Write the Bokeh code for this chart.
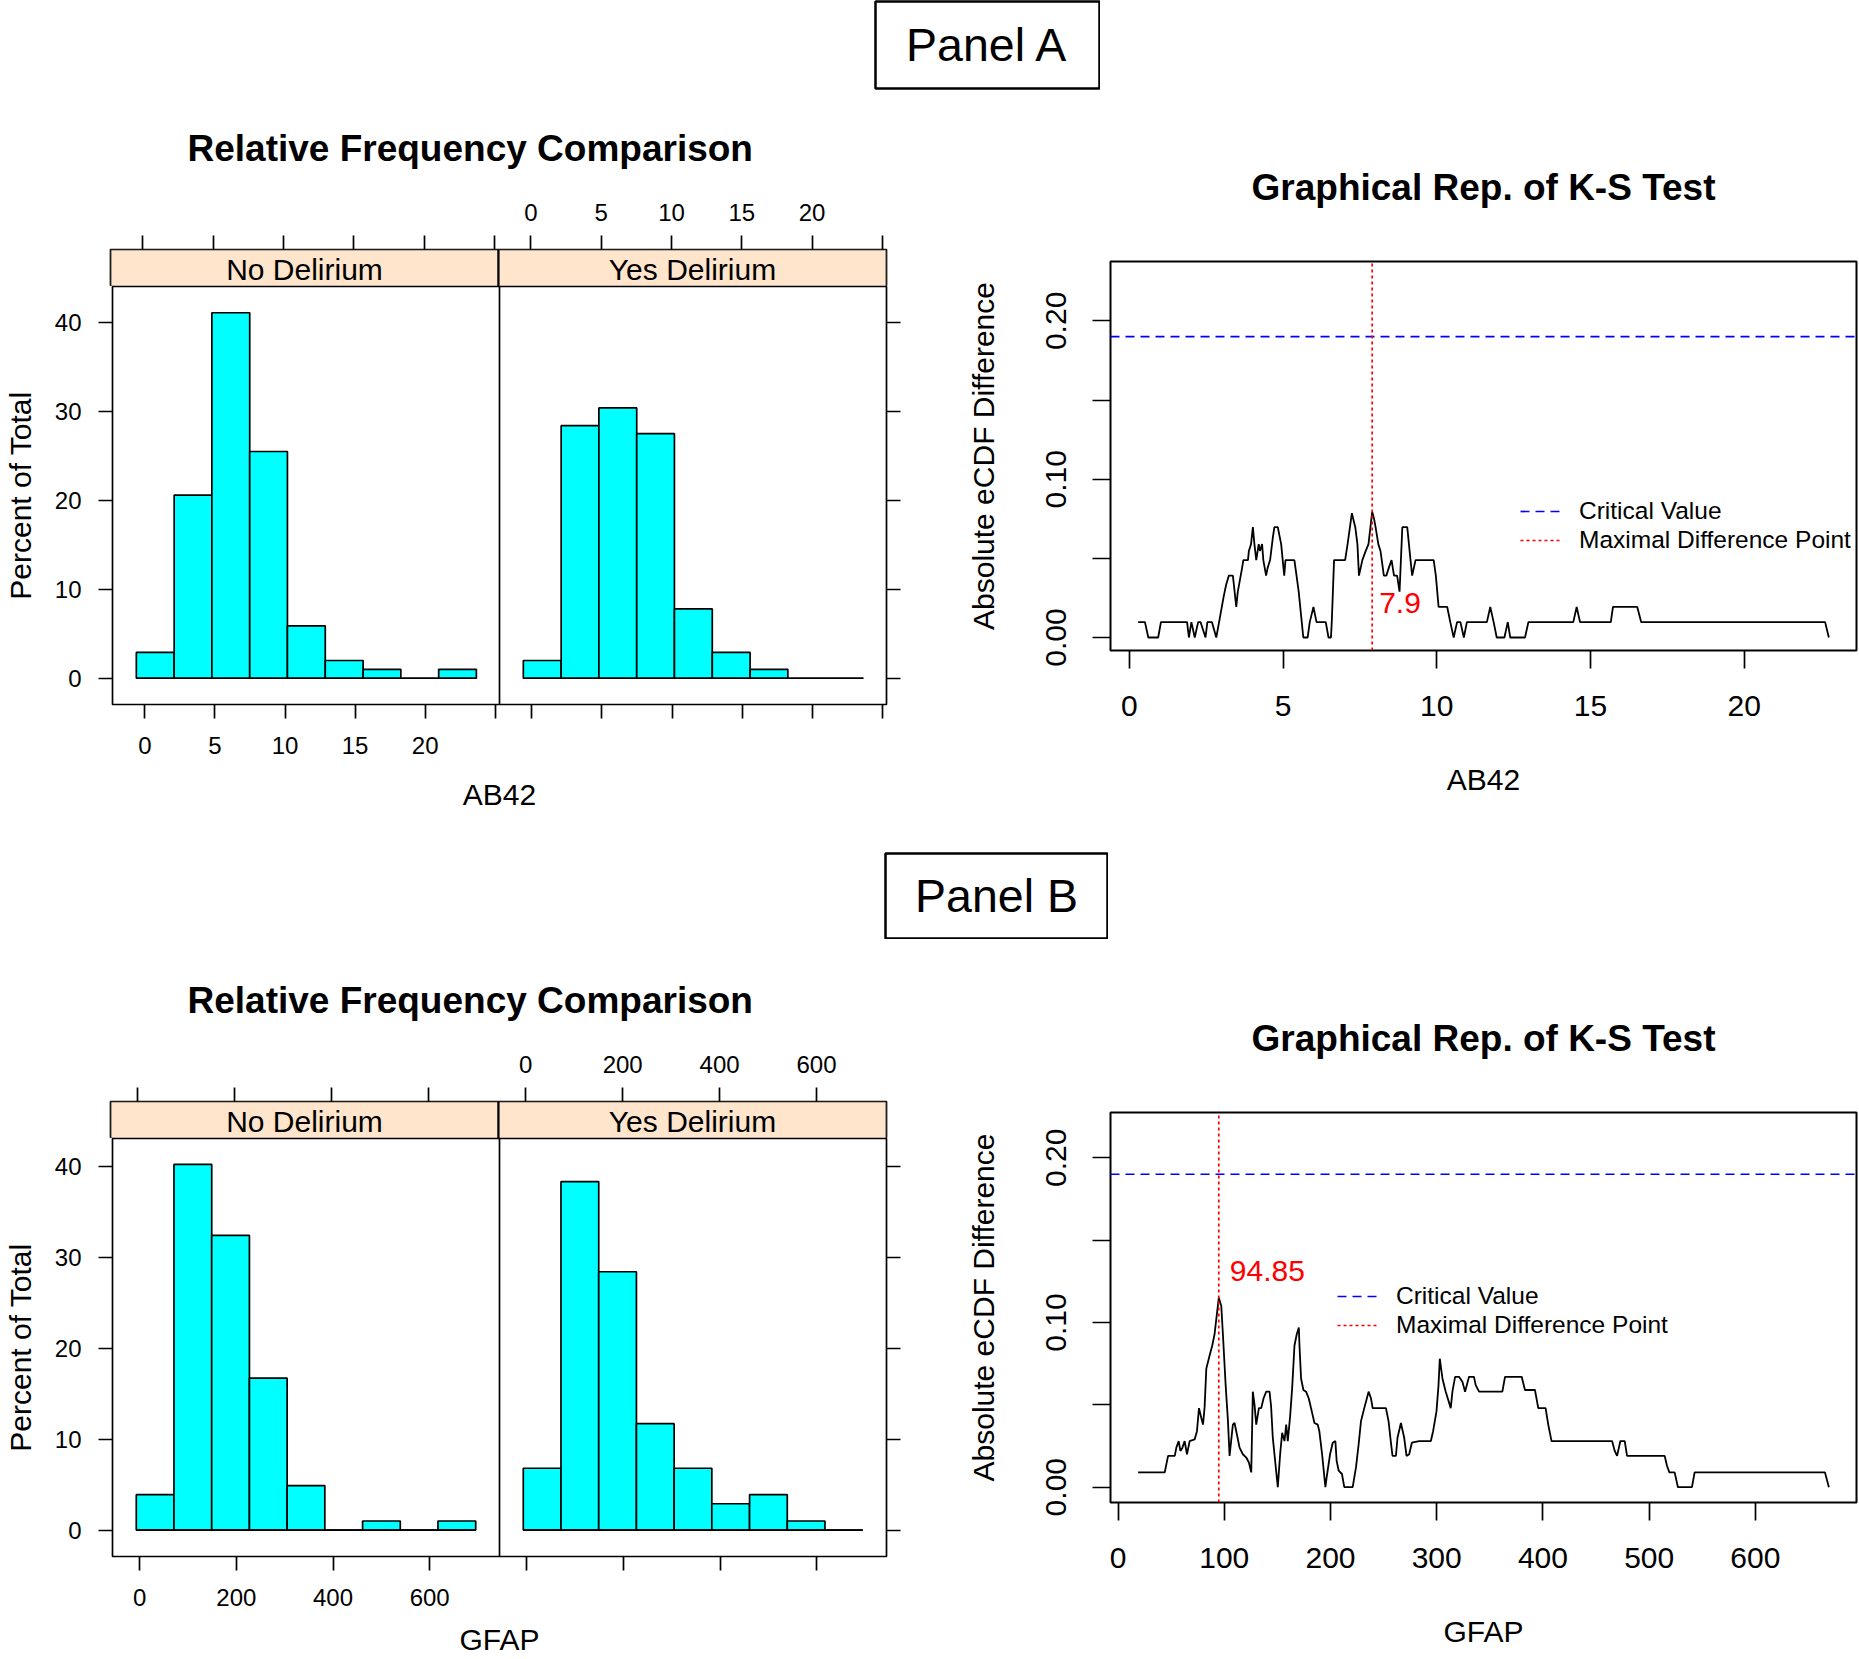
from bokeh.plotting import figure
from bokeh.layouts import column, row
from bokeh.models import (Range1d, FixedTicker, LinearAxis, Span, Legend,
                          LegendItem, Spacer, PrintfTickFormatter)
from bokeh.embed import file_html
from bokeh.resources import INLINE
from bokeh.core.properties import value

FONT = "Liberation Sans"
CYAN = "#00FFFF"
STRIP = "#FFE5CC"

# ---------------- histogram data (percent of total per bin) ----------------
groups = ["No Delirium", "Yes Delirium"]

ab42_bin_edges = [-0.61, 2.09, 4.78, 7.48, 10.17, 12.87, 15.57, 18.26, 20.96, 23.65]
ab42_pct_no = [2.9, 20.6, 41.1, 25.5, 5.9, 2.0, 1.0, 0.0, 1.0]
ab42_pct_yes = [2.0, 28.4, 30.4, 27.5, 7.8, 2.9, 1.0, 0.0, 0.0]

gfap_bin_edges = [-7.1, 70.9, 149.0, 227.0, 305.0, 383.0, 461.1, 539.1, 617.1, 695.2]
gfap_pct_no = [3.9, 40.2, 32.4, 16.7, 4.9, 0.0, 1.0, 0.0, 1.0]
gfap_pct_yes = [6.8, 38.3, 28.4, 11.7, 6.8, 2.9, 3.9, 1.0, 0.0]

pct_ticks = [0, 10, 20, 30, 40]
ab42_hist_ticks = [0, 5, 10, 15, 20, 25]
ab42_hist_tick_labels = ["0", "5", "10", "15", "20", ""]
gfap_hist_ticks = [0, 200, 400, 600]
gfap_hist_tick_labels = ["0", "200", "400", "600"]

ab42_hist_xlim = (-2.31, 25.3)
ab42_hist_ylim = (-2.95, 44.05)
gfap_hist_xlim = (-56.3, 744.4)
gfap_hist_ylim = (-2.9, 43.05)

# ---------------- K-S data: absolute eCDF difference ----------------
ab42_ks_x = [0.29, 0.51, 0.62, 0.94, 1.03, 1.88, 1.94, 2.02, 2.13, 2.24, 2.32, 2.48,
             2.54, 2.69, 2.83, 2.94, 3.07, 3.15, 3.24, 3.37, 3.48, 3.53, 3.67, 3.71,
             3.86, 3.89, 3.96, 4.02, 4.07, 4.13, 4.21, 4.25, 4.32, 4.36, 4.45, 4.50,
             4.58, 4.67, 4.72, 4.83, 4.94, 4.99, 5.04, 5.08, 5.37, 5.44, 5.51, 5.56,
             5.66, 5.80, 5.87, 5.99, 6.09, 6.39, 6.48, 6.56, 6.59, 6.66, 7.02, 7.10,
             7.24, 7.35, 7.42, 7.47, 7.58, 7.69, 7.78, 7.90, 7.96, 8.01, 8.10, 8.17,
             8.28, 8.36, 8.44, 8.53, 8.61, 8.71, 8.79, 8.88, 9.04, 9.15, 9.20, 9.31,
             9.90, 9.97, 10.06, 10.34, 10.44, 10.55, 10.66, 10.77, 10.88, 10.98, 11.63,
             11.74, 11.85, 11.95, 12.20, 12.31, 12.39, 12.87, 12.98, 14.44, 14.55,
             14.66, 15.66, 15.73, 16.52, 16.65, 22.63, 22.75]
ab42_ks_diff = [0.0097, 0.0097, 0.0, 0.0, 0.0097, 0.0097, 0.0, 0.0097, 0.0, 0.0097, 0.0097, 0.0,
                0.0097, 0.0097, 0.0, 0.0118, 0.0258, 0.0333, 0.0391, 0.0391, 0.0193, 0.0290, 0.0440, 0.0489,
                0.0489, 0.0547, 0.0590, 0.0697, 0.0590, 0.0489, 0.0590, 0.0547, 0.0590, 0.0489, 0.0391, 0.0440,
                0.0489, 0.0633, 0.0697, 0.0697, 0.0590, 0.0489, 0.0391, 0.0489, 0.0489, 0.0391, 0.0290, 0.0193,
                0.0, 0.0, 0.0097, 0.0193, 0.0097, 0.0097, 0.0, 0.0, 0.0118, 0.0489, 0.0489, 0.0590,
                0.0785, 0.0697, 0.0590, 0.0391, 0.0489, 0.0547, 0.0590, 0.0794, 0.0751, 0.0697, 0.0590, 0.0547,
                0.0391, 0.0391, 0.0440, 0.0489, 0.0391, 0.0391, 0.0290, 0.0697, 0.0697, 0.0483, 0.0391, 0.0489,
                0.0489, 0.0391, 0.0193, 0.0193, 0.0097, 0.0, 0.0097, 0.0097, 0.0, 0.0097, 0.0097,
                0.0193, 0.0097, 0.0, 0.0, 0.0097, 0.0, 0.0, 0.0097, 0.0097, 0.0193,
                0.0097, 0.0097, 0.0193, 0.0193, 0.0097, 0.0097, 0.0]

gfap_ks_x = [18.9, 43.96, 47.1, 53.4, 54.9, 57.1, 58.7, 60.6, 62.7, 64.9, 67.4, 72.1, 74.3,
             76.2, 78.4, 80.0, 81.5, 83.1, 86.2, 88.7, 90.9, 92.5, 94.85, 97.2, 98.7, 101.3,
             103.4, 105.0, 108.1, 109.7, 111.9, 114.4, 117.5, 120.7, 123.2, 125.4, 126.9,
             128.5, 130.1, 132.6, 134.8, 137.0, 139.5, 142.6, 144.1, 145.7, 148.2, 150.4,
             152.6, 154.5, 156.7, 158.3, 159.8, 162.0, 163.9, 166.1, 168.3, 170.2, 170.8,
             172.3, 174.5, 177.0, 179.5, 181.7, 184.9, 188.0, 189.5, 192.1, 195.2, 196.4,
             199.6, 202.1, 204.6, 205.8, 207.7, 210.8, 213.0, 220.9, 224.0, 226.5, 228.7,
             231.8, 235.9, 238.1, 239.7, 252.2, 254.7, 256.9, 258.4, 261.6, 263.1, 266.3,
             269.4, 271.6, 274.1, 276.6, 283.5, 294.5, 296.6, 299.8, 301.7, 302.9, 305.4,
             308.5, 313.2, 314.8, 317.3, 321.0, 324.2, 326.7, 330.4, 335.1, 336.7, 339.9,
             361.8, 364.3, 380.0, 383.1, 392.5, 395.6, 402.5, 405.0, 408.1, 465.1, 467.6,
             469.8, 472.9, 477.0, 479.2, 514.6, 516.8, 519.0, 524.0, 527.1, 540.3, 542.8,
             665.5, 669.2]
gfap_ks_diff = [0.009, 0.009, 0.019, 0.019, 0.024, 0.028, 0.022, 0.024, 0.028, 0.020, 0.028, 0.029, 0.034,
                0.048, 0.042, 0.038, 0.0486, 0.072, 0.080, 0.086, 0.093, 0.102, 0.115, 0.110, 0.093, 0.062,
                0.041, 0.019, 0.038, 0.039, 0.032, 0.024, 0.020, 0.018, 0.015, 0.009, 0.058,
                0.050, 0.038, 0.048, 0.048, 0.054, 0.058, 0.058, 0.049, 0.030, 0.014, 0.0,
                0.020, 0.033, 0.028, 0.038, 0.028, 0.043, 0.060, 0.086, 0.093, 0.097, 0.086,
                0.066, 0.059, 0.058, 0.054, 0.048, 0.039, 0.038, 0.034, 0.020, 0.0, 0.006,
                0.020, 0.027, 0.028, 0.016, 0.010, 0.008, 0.0, 0.0, 0.012, 0.026, 0.040,
                0.048, 0.058, 0.054, 0.048, 0.048, 0.040, 0.027, 0.019, 0.019, 0.030, 0.039,
                0.030, 0.019, 0.020, 0.027, 0.028, 0.028, 0.034, 0.046, 0.062, 0.078, 0.066,
                0.058, 0.048, 0.058, 0.067, 0.067, 0.064, 0.058, 0.067, 0.067, 0.062, 0.058,
                0.058, 0.067, 0.067, 0.059, 0.059, 0.048, 0.048, 0.038, 0.028, 0.028, 0.022,
                0.019, 0.028, 0.028, 0.019, 0.019, 0.013, 0.009, 0.009, 0.0, 0.0, 0.009,
                0.009, 0.0]

ab42_ks_ticks = [0, 5, 10, 15, 20]
gfap_ks_ticks = [0, 100, 200, 300, 400, 500, 600]
diff_ticks = [0.0, 0.1, 0.2]
diff_minor_ticks = [0.05, 0.15]
critical_value = 0.19
ab42_max_point = 7.9
gfap_max_point = 94.85
ab42_max_label_y = 0.022
gfap_max_label_y = 0.131

ab42_ks_xlim = (-0.61, 23.65)
ab42_ks_ylim = (-0.0082, 0.2375)
gfap_ks_xlim = (-7.1, 695.2)
gfap_ks_ylim = (-0.0093, 0.2275)

# ---------------- layout constants (pixels) ----------------
HIST_W, HIST_FRAME_W, HIST_LEFT = 930, 776, 110
HIST_RIGHT = HIST_W - HIST_LEFT - HIST_FRAME_W
STRIP_PX, BODY_PX = 37, 418
KS_W, KS_LEFT, KS_RIGHT = 928, 180, 2
LW = 1.7


def style_axis(ax, tick_len, size, standoff):
    ax.axis_line_color = None
    ax.major_tick_in = 0
    ax.major_tick_out = tick_len
    ax.minor_tick_in = 0
    ax.minor_tick_out = tick_len
    ax.major_tick_line_color = "black"
    ax.minor_tick_line_color = "black"
    ax.major_tick_line_width = LW
    ax.minor_tick_line_width = LW
    ax.major_label_text_font = FONT
    ax.major_label_text_font_size = size
    ax.major_label_text_color = "black"
    ax.major_label_standoff = standoff
    ax.axis_label_text_font = FONT
    ax.axis_label_text_font_size = "30px"
    ax.axis_label_text_font_style = "normal"
    ax.axis_label_text_color = "black"


def base_fig(w, h, xr, yr, left, right, top, bottom, title=None):
    p = figure(width=w, height=h, x_range=xr, y_range=yr,
               output_backend="svg", toolbar_location=None,
               x_axis_location=None, y_axis_location=None,
               min_border_left=left, min_border_right=right,
               min_border_top=top, min_border_bottom=bottom, title=title)
    p.frame_align = False
    p.grid.visible = False
    p.background_fill_color = "white"
    p.border_fill_color = "white"
    p.outline_line_color = "black"
    p.outline_line_width = LW
    return p


def hist_block(title, xlabel, edges, pct_no, pct_yes, xlim, ylim, ticks, tick_labels,
               strip_top_border, body_bottom_border, xlabel_standoff):
    span = xlim[1] - xlim[0]
    xr = Range1d(xlim[0], xlim[1] + span)
    yes_r = Range1d(xlim[0] - span, xlim[1])
    lab = [t for t, l in zip(ticks, tick_labels) if l]
    unlab = [t for t, l in zip(ticks, tick_labels) if not l]

    # ---- strip figure (panel headers + top axis + main title) ----
    s = base_fig(HIST_W, strip_top_border + STRIP_PX, xr, Range1d(0, 1),
                 HIST_LEFT, HIST_RIGHT, strip_top_border, 0, title=title)
    s.extra_x_ranges = {"yes": yes_r}
    for rn, g in zip(["default", "yes"], groups):
        s.quad(left=[xlim[0]], right=[xlim[1]], bottom=[0], top=[1],
               fill_color=STRIP, line_color="black", line_width=LW, x_range_name=rn)
        s.text(x=[(xlim[0] + xlim[1]) / 2], y=[0.45], text=[g],
               text_align="center", text_baseline="middle", text_font=value(FONT),
               text_font_size="30px", text_color="black", x_range_name=rn)
    s.add_layout(Span(location=xlim[1], dimension="height", line_color="black", line_width=LW))
    top = LinearAxis(x_range_name="yes",
                     ticker=FixedTicker(ticks=lab, minor_ticks=unlab + [t - span for t in ticks]))
    style_axis(top, 14, "24px", 15)
    s.add_layout(top, "above")
    s.title.text_font = FONT
    s.title.text_font_size = "37px"
    s.title.text_font_style = "bold"
    s.title.text_color = "black"
    s.title.align = "left"
    s.title.offset = 77
    s.title.standoff = 63

    # ---- body figure (bars + left/right/bottom axes) ----
    b = base_fig(HIST_W, BODY_PX + body_bottom_border, xr, Range1d(*ylim),
                 HIST_LEFT, HIST_RIGHT, 0, body_bottom_border)
    b.extra_x_ranges = {"yes": yes_r}
    for rn, vals in zip(["default", "yes"], [pct_no, pct_yes]):
        b.quad(left=edges[:-1], right=edges[1:], bottom=[0] * len(vals), top=vals,
               fill_color=CYAN, line_color="black", line_width=LW, x_range_name=rn)
        b.line(x=[edges[0], edges[-1]], y=[0, 0], line_color="black", line_width=LW,
               x_range_name=rn)
    b.add_layout(Span(location=xlim[1], dimension="height", line_color="black", line_width=LW))

    bottom = LinearAxis(ticker=FixedTicker(ticks=lab, minor_ticks=unlab + [t + span for t in ticks]),
                        axis_label=xlabel)
    style_axis(bottom, 14, "24px", 18)
    bottom.axis_label_standoff = xlabel_standoff
    left = LinearAxis(ticker=FixedTicker(ticks=pct_ticks), axis_label="Percent of Total")
    style_axis(left, 14, "24px", 17)
    left.axis_label_standoff = 15
    right = LinearAxis(ticker=FixedTicker(ticks=[], minor_ticks=pct_ticks))
    style_axis(right, 14, "24px", 0)
    b.add_layout(bottom, "below")
    b.add_layout(left, "left")
    b.add_layout(right, "right")
    return column(s, b, spacing=0)


def ks_figure(title, xlabel, xs, ys, xlim, ylim, xticks, max_point, label_y, label_dx,
              legend_xy, fig_h, b_top, frame_h):
    p = base_fig(KS_W, fig_h, Range1d(*xlim), Range1d(*ylim), KS_LEFT, KS_RIGHT,
                 b_top, fig_h - b_top - frame_h, title=title)
    p.outline_line_width = 2

    xa = LinearAxis(ticker=FixedTicker(ticks=xticks), axis_label=xlabel)
    style_axis(xa, 18, "30px", 27)
    xa.axis_label_standoff = 44
    ya = LinearAxis(ticker=FixedTicker(ticks=diff_ticks, minor_ticks=diff_minor_ticks),
                    formatter=PrintfTickFormatter(format="%.2f"),
                    axis_label="Absolute eCDF Difference")
    style_axis(ya, 18, "30px", 26)
    ya.major_label_orientation = "vertical"
    ya.axis_label_standoff = 44
    p.add_layout(xa, "below")
    p.add_layout(ya, "left")

    p.line(xs, ys, line_color="black", line_width=1.8)
    crit_r = p.line(list(xlim), [critical_value, critical_value], line_color="blue",
                    line_dash="9 6", line_width=LW)
    max_r = p.line([max_point, max_point], list(ylim), line_color="red",
                   line_dash="3 3", line_width=LW)
    p.text(x=[max_point], y=[label_y], text=[f"{max_point:g}"], x_offset=label_dx,
           text_color="red", text_font=value(FONT), text_font_size="30px",
           text_align="left", text_baseline="middle")

    leg = Legend(items=[LegendItem(label="Critical Value", renderers=[crit_r]),
                        LegendItem(label="Maximal Difference Point", renderers=[max_r])],
                 location=legend_xy, orientation="vertical",
                 border_line_color=None, background_fill_alpha=0,
                 padding=0, margin=0, spacing=1,
                 glyph_width=42, glyph_height=28, label_height=28, label_standoff=17,
                 label_text_font=FONT, label_text_font_size="24.5px", label_text_color="black")
    p.add_layout(leg)

    p.title.text_font = FONT
    p.title.text_font_size = "37px"
    p.title.text_font_style = "bold"
    p.title.text_color = "black"
    p.title.align = "center"
    p.title.standoff = 108
    return p


def header(text, w, h, top, bottom):
    p = base_fig(w, h, Range1d(0, 1), Range1d(0, 1), 1, 1, top, bottom)
    p.outline_line_width = 2.5
    p.text(x=[0.5], y=[0.5], text=[text], text_align="center", text_baseline="middle",
           text_font=value(FONT), text_font_size="46.5px", text_color="black")
    return p


# ---------------- build ----------------
head_a = header("Panel A", 226, 90, 1, 2)
hist_a = hist_block("Relative Frequency Comparison", "AB42", ab42_bin_edges, ab42_pct_no,
                    ab42_pct_yes, ab42_hist_xlim, ab42_hist_ylim, ab42_hist_ticks,
                    ab42_hist_tick_labels, 159, 148, 21)
ks_a = ks_figure("Graphical Rep. of K-S Test", "AB42", ab42_ks_x, ab42_ks_diff, ab42_ks_xlim,
                 ab42_ks_ylim, ab42_ks_ticks, ab42_max_point, ab42_max_label_y, 7,
                 (410, 96), 762, 171, 389)

head_b = header("Panel B", 224, 87, 1, 1)
hist_b = hist_block("Relative Frequency Comparison", "GFAP", gfap_bin_edges, gfap_pct_no,
                    gfap_pct_yes, gfap_hist_xlim, gfap_hist_ylim, gfap_hist_ticks,
                    gfap_hist_tick_labels, 162, 102, 14)
ks_b = ks_figure("Graphical Rep. of K-S Test", "GFAP", gfap_ks_x, gfap_ks_diff, gfap_ks_xlim,
                 gfap_ks_ylim, gfap_ks_ticks, gfap_max_point, gfap_max_label_y, 11,
                 (227, 163), 719, 173, 390)

layout = column(
    row(Spacer(width=874, height=90), head_a, spacing=0),
    row(hist_a, ks_a, spacing=0),
    row(Spacer(width=884, height=87), head_b, spacing=0),
    row(hist_b, ks_b, spacing=0),
    spacing=0,
)

open("out.html", "w").write(file_html(layout, INLINE))
